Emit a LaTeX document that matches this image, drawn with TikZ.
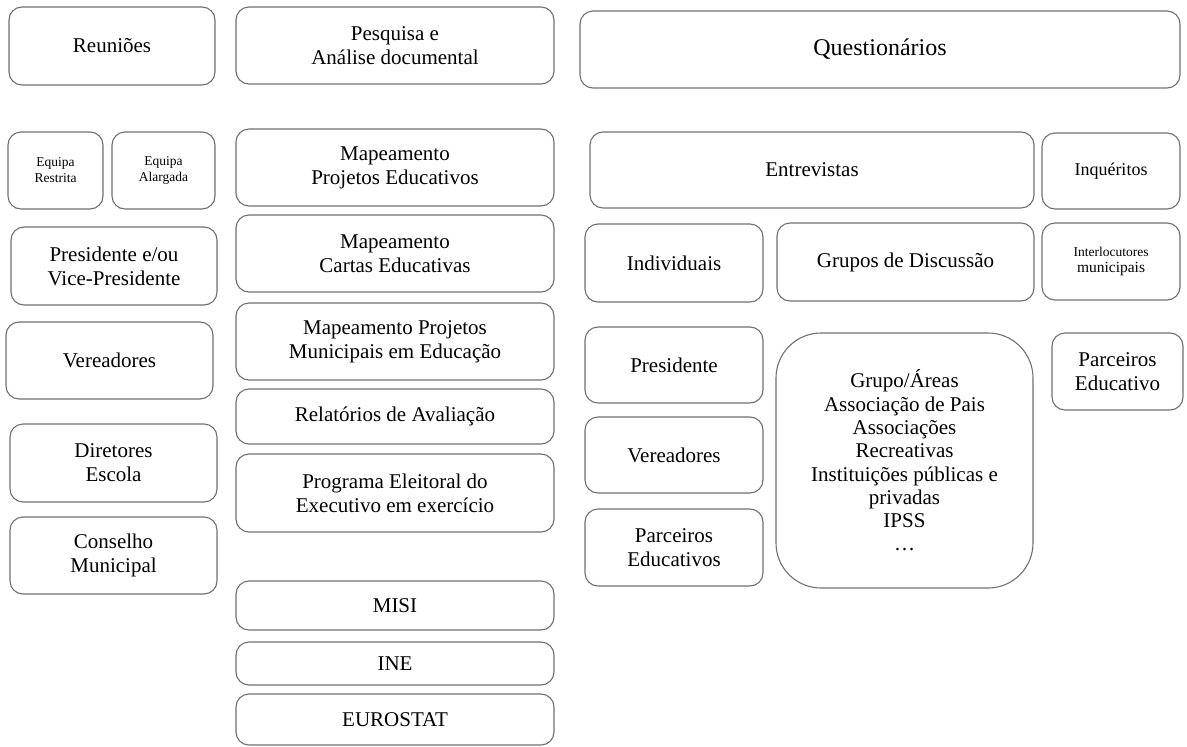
\documentclass[tikz,border=0pt]{standalone}
\usepackage{fontspec}
\setmainfont{Liberation Serif}
\definecolor{edge}{RGB}{112,112,112}
\tikzset{
  box/.style={draw=edge, line width=1.1pt, rounded corners=13pt, align=center,
    inner sep=0pt, font=\fontsize{21}{24}\selectfont},
}
\newcommand{\bx}[7][]{\node[box,#1,minimum width=#5pt,minimum height=#6pt] (#2) at (#3,#4) {#7};}
\begin{document}
\begin{tikzpicture}[x=1pt,y=-1pt]
\useasboundingbox (0,0) rectangle (1187,747);
% column 1
\bx{reun}{112}{46}{206}{78}{Reuniões}
\bx[font=\fontsize{13.5}{16}\selectfont]{eqr}{55.5}{170.5}{95}{77}{Equipa\\Restrita}
\bx[font=\fontsize{13.5}{16}\selectfont]{eqa}{163.5}{170.5}{103}{77}{Equipa\\Alargada}
\bx{pres}{114}{266}{206}{78}{Presidente e/ou\\Vice-Presidente}
\bx{ver}{109.5}{360.5}{207}{77}{Vereadores}
\bx{dir}{113.5}{463}{207}{78}{Diretores\\Escola}
\bx{cons}{113.5}{555.5}{207}{77}{Conselho\\Municipal}
% column 2
\bx{pesq}{395}{45.5}{318}{77}{Pesquisa e\\Análise documental}
\bx{mpe}{395}{167.5}{318}{77}{Mapeamento\\Projetos Educativos}
\bx{mce}{395}{253.5}{318}{77}{Mapeamento\\Cartas Educativas}
\bx{mpm}{395}{341.5}{318}{77}{Mapeamento Projetos\\Municipais em Educação}
\bx{rel}{395}{416.5}{318}{55}{Relatórios de Avaliação}
\bx{prog}{395}{493}{318}{78}{Programa Eleitoral do\\Executivo em exercício}
\bx{misi}{395}{605.5}{318}{49}{MISI}
\bx{ine}{395}{663.5}{318}{43}{INE}
\bx{euro}{395}{719.5}{318}{51}{EUROSTAT}
% column 3
\bx[font=\fontsize{24}{28}\selectfont]{quest}{880}{49.5}{600}{77}{Questionários}
\bx{entr}{812}{170}{444}{76}{Entrevistas}
\bx[font=\fontsize{18}{22}\selectfont]{inq}{1111}{171}{138}{76}{Inquéritos}
\bx{indiv}{674}{263}{178}{78}{Individuais}
\bx{grup}{905.5}{262}{257}{78}{Grupos de Discussão}
\bx[font=\fontsize{13.5}{16}\selectfont]{inter}{1111}{261.5}{138}{77}{Interlocutores\\{\fontsize{15.5}{16}\selectfont municipais}}
\bx{presi}{674}{365}{178}{76}{Presidente}
\bx{vere}{674}{455}{178}{76}{Vereadores}
\bx{parc}{674}{547.5}{178}{77}{Parceiros\\Educativos}
\bx[rounded corners=45pt,font=\fontsize{21}{23.3}\selectfont]{big}{904.5}{460.5}{257}{255}{Grupo/Áreas\\Associação de Pais\\Associações\\Recreativas\\Instituições públicas e\\privadas\\IPSS\\…}
\bx{parc2}{1117.5}{371.5}{131}{77}{Parceiros\\Educativo}
\end{tikzpicture}
\end{document}
